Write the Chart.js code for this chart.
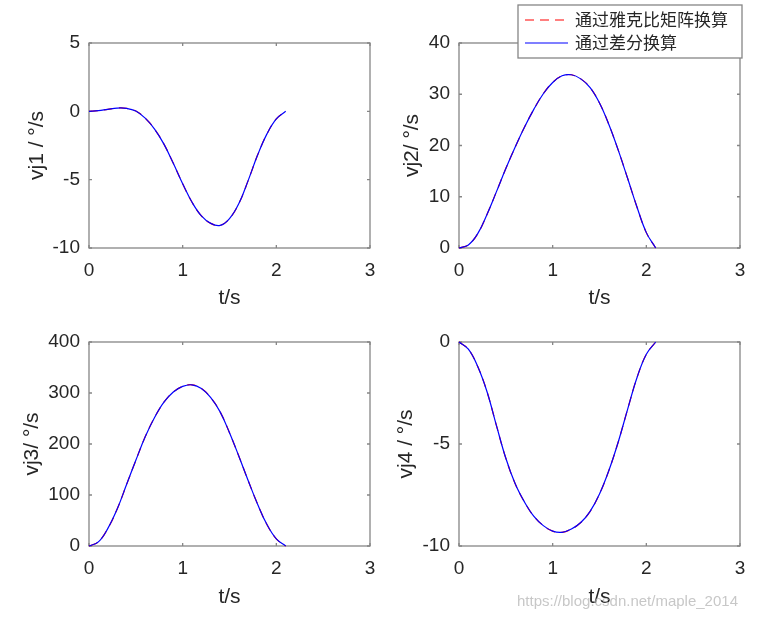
<!DOCTYPE html>
<html>
<head>
<meta charset="utf-8">
<script src="https://cdn.jsdelivr.net/npm/chart.js@4.4.0/dist/chart.umd.min.js"></script>
<style>
  body { margin: 0; background: #fff; }
  #wrap { position: relative; width: 760px; height: 620px; }
  canvas { position: absolute; }
  .mark { position: absolute; left: 517px; top: 592px; z-index: 5;
          font: 15px "Liberation Sans", Arial, sans-serif; color: rgba(185,185,185,0.8); }
</style>
</head>
<body>
<div id="wrap">
  <canvas id="c1" width="380" height="320" style="left:0;top:0"></canvas>
  <canvas id="c2" width="380" height="320" style="left:380px;top:0"></canvas>
  <canvas id="c3" width="380" height="300" style="left:0;top:320px"></canvas>
  <canvas id="c4" width="380" height="300" style="left:380px;top:320px"></canvas>
  <div class="mark">https://blog.csdn.net/maple_2014</div>
</div>
<script>
// time (s)
const t = [0, 0.1, 0.2, 0.3, 0.4, 0.5, 0.6, 0.7, 0.8, 0.9, 1.0, 1.1,
           1.2, 1.3, 1.4, 1.5, 1.6, 1.7, 1.8, 1.9, 2.0, 2.1];

// joint velocities (deg/s)
const vj1 = [0, 0.05, 0.15, 0.24, 0.22, 0.02, -0.5, -1.3, -2.4, -3.8, -5.3, -6.65,
             -7.65, -8.2, -8.35, -7.85, -6.75, -5.05, -3.2, -1.65, -0.55, 0];
const vj2 = [0, 0.6, 2.8, 6.6, 11.0, 15.5, 19.7, 23.6, 27.1, 30.1, 32.3, 33.6,
             33.8, 33.0, 31.3, 28.3, 24.1, 19.1, 13.6, 8.0, 3.0, 0];
const vj3 = [0, 8, 34, 72, 120, 168, 214, 252, 282, 302, 313, 316,
             309, 291, 263, 222, 176, 128, 82, 42, 14, 0];
const vj4 = [0, -0.35, -1.2, -2.45, -4.1, -5.7, -6.95, -7.85, -8.55, -9.0, -9.27, -9.33,
             -9.17, -8.85, -8.3, -7.45, -6.3, -4.9, -3.3, -1.75, -0.6, 0];

const seriesNames = ["通过雅克比矩阵换算", "通过差分换算"];
const xTicks = [0, 1, 2, 3];

const FONT = '"Liberation Sans", Arial, sans-serif';
const TXT = "#262626";
const AXIS = "#868686";

// MATLAB style box with inward ticks on all four sides
const frame = {
  id: "frame",
  beforeDatasetsDraw(chart) {
    const { ctx, chartArea: a, scales: { x, y } } = chart;
    ctx.save();
    ctx.strokeStyle = AXIS;
    ctx.lineWidth = 1.3;
    ctx.strokeRect(a.left, a.top, a.right - a.left, a.bottom - a.top);
    ctx.beginPath();
    x.ticks.forEach(tk => {
      const px = x.getPixelForValue(tk.value);
      ctx.moveTo(px, a.bottom); ctx.lineTo(px, a.bottom - 3);
      ctx.moveTo(px, a.top); ctx.lineTo(px, a.top + 3);
    });
    y.ticks.forEach(tk => {
      const py = y.getPixelForValue(tk.value);
      ctx.moveTo(a.left, py); ctx.lineTo(a.left + 3, py);
      ctx.moveTo(a.right, py); ctx.lineTo(a.right - 3, py);
    });
    ctx.stroke();
    ctx.restore();
  }
};

// legend box drawn over the top-right axes
const boxLegend = {
  id: "boxLegend",
  afterDraw(chart) {
    const ctx = chart.ctx;
    const L = 138, T = 5, W = 224, H = 53;
    ctx.save();
    ctx.fillStyle = "#fff";
    ctx.fillRect(L, T, W, H);
    ctx.strokeStyle = AXIS;
    ctx.lineWidth = 1.3;
    ctx.strokeRect(L, T, W, H);
    ctx.font = '17px "Noto Sans CJK SC", sans-serif';
    ctx.textBaseline = "middle";
    chart.data.datasets.forEach((ds, i) => {
      const yy = 20 + i * 23;
      ctx.strokeStyle = ds.borderColor;
      ctx.lineWidth = 1.2;
      ctx.setLineDash(ds.borderDash || []);
      ctx.beginPath();
      ctx.moveTo(145, yy); ctx.lineTo(188, yy);
      ctx.stroke();
      ctx.setLineDash([]);
      ctx.fillStyle = TXT;
      ctx.fillText(ds.label, 195, yy);
    });
    ctx.restore();
  }
};

function pts(vals) {
  return t.map((x, i) => ({ x: x, y: vals[i] }));
}

function makeChart(id, vals, yMin, yMax, yStep, yTitle, lay) {
  const extra = lay.legend ? [frame, boxLegend] : [frame];
  return new Chart(document.getElementById(id), {
    type: "line",
    data: {
      datasets: [
        {
          label: seriesNames[0],
          data: pts(vals),
          borderColor: "#ff0000",
          borderDash: [9, 6],
          borderWidth: 1.2,
          order: 1,
        },
        {
          label: seriesNames[1],
          data: pts(vals),
          borderColor: "#0000ff",
          borderWidth: 1.2,
          order: 0,
        },
      ],
    },
    options: {
      responsive: false,
      animation: false,
      devicePixelRatio: 1,
      clip: false,
      elements: { point: { radius: 0 }, line: { tension: 0.4, fill: false } },
      layout: { padding: { top: lay.top, right: lay.right, left: 0, bottom: 0 } },
      scales: {
        x: {
          type: "linear",
          min: 0,
          max: 3,
          grid: { display: false, drawTicks: false },
          border: { display: false },
          afterBuildTicks: (s) => { s.ticks = xTicks.map(v => ({ value: v })); },
          afterFit: (s) => { s.height = lay.xh; s.paddingLeft = 5; s.paddingRight = 5; },
          ticks: { padding: 11, color: TXT, font: { family: FONT, size: 19 } },
          title: {
            display: true, text: "t/s", color: TXT,
            font: { family: FONT, size: 21 }, padding: { top: 0, bottom: lay.xtp },
          },
        },
        y: {
          min: yMin,
          max: yMax,
          grid: { display: false, drawTicks: false },
          border: { display: false },
          afterFit: (s) => { s.width = lay.yw; s.paddingTop = 10; s.paddingBottom = 10; },
          ticks: { stepSize: yStep, padding: 9, color: TXT, font: { family: FONT, size: 19 } },
          title: {
            display: true, text: yTitle, color: TXT,
            font: { family: FONT, size: 21 }, padding: { top: lay.ytp, bottom: 0 },
          },
        },
      },
      plugins: { legend: { display: false }, tooltip: { enabled: false } },
    },
    plugins: extra,
  });
}

makeChart("c1", vj1, -10, 5, 5, "vj1 / °/s", { top: 43, right: 10, yw: 89, xh: 72, xtp: 9, ytp: 25 });
makeChart("c2", vj2, 0, 40, 10, "vj2/ °/s", { top: 43, right: 20, yw: 79, xh: 72, xtp: 9, ytp: 20, legend: true });
makeChart("c3", vj3, 0, 400, 100, "vj3/ °/s", { top: 22, right: 10, yw: 89, xh: 74, xtp: 10, ytp: 20 });
makeChart("c4", vj4, -10, 0, 5, "vj4 / °/s", { top: 22, right: 20, yw: 79, xh: 74, xtp: 10, ytp: 14 });
</script>
</body>
</html>
